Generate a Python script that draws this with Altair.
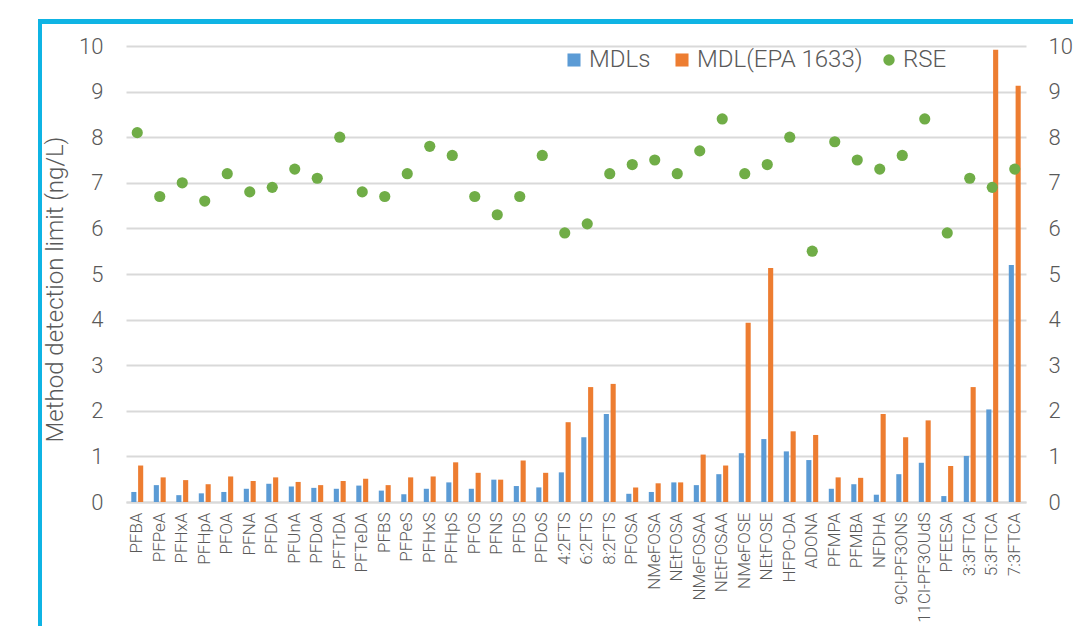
import altair as alt
import pandas as pd

categories = ["PFBA", "PFPeA", "PFHxA", "PFHpA", "PFOA", "PFNA", "PFDA", "PFUnA", "PFDoA", "PFTrDA",
              "PFTeDA", "PFBS", "PFPeS", "PFHxS", "PFHpS", "PFOS", "PFNS", "PFDS", "PFDoS", "4:2FTS",
              "6:2FTS", "8:2FTS", "PFOSA", "NMeFOSA", "NEtFOSA", "NMeFOSAA", "NEtFOSAA", "NMeFOSE", "NEtFOSE", "HFPO-DA",
              "ADONA", "PFMPA", "PFMBA", "NFDHA", "9Cl-PF3ONS", "11Cl-PF3OUdS", "PFEESA", "3:3FTCA", "5:3FTCA", "7:3FTCA"]
mdls = [0.22, 0.37, 0.15, 0.19, 0.22, 0.29, 0.40, 0.34, 0.31, 0.29,
        0.36, 0.25, 0.17, 0.29, 0.43, 0.29, 0.49, 0.35, 0.32, 0.65,
        1.42, 1.93, 0.18, 0.22, 0.43, 0.37, 0.61, 1.07, 1.38, 1.11,
        0.92, 0.29, 0.39, 0.16, 0.61, 0.86, 0.13, 1.01, 2.03, 5.20]
mdl_epa = [0.80, 0.54, 0.48, 0.39, 0.56, 0.46, 0.54, 0.44, 0.37, 0.46,
           0.51, 0.37, 0.54, 0.56, 0.87, 0.64, 0.49, 0.91, 0.64, 1.75,
           2.52, 2.59, 0.32, 0.41, 0.43, 1.04, 0.80, 3.93, 5.13, 1.55,
           1.47, 0.54, 0.53, 1.93, 1.42, 1.79, 0.79, 2.52, 9.92, 9.13]
rse = [8.1, 6.7, 7.0, 6.6, 7.2, 6.8, 6.9, 7.3, 7.1, 8.0,
       6.8, 6.7, 7.2, 7.8, 7.6, 6.7, 6.3, 6.7, 7.6, 5.9,
       6.1, 7.2, 7.4, 7.5, 7.2, 7.7, 8.4, 7.2, 7.4, 8.0,
       5.5, 7.9, 7.5, 7.3, 7.6, 8.4, 5.9, 7.1, 6.9, 7.3]
series_names = ["MDLs", "MDL(EPA 1633)"]
series_colors = ["#5B9BD5", "#ED7D31"]
rse_name = "RSE"
rse_color = "#70AD47"
y_ticks = [0, 1, 2, 3, 4, 5, 6, 7, 8, 9, 10]

bars_df = pd.DataFrame(
    [{"compound": c, "series": series_names[0], "value": v} for c, v in zip(categories, mdls)]
    + [{"compound": c, "series": series_names[1], "value": v} for c, v in zip(categories, mdl_epa)]
)
rse_df = pd.DataFrame({"compound": categories, "rse": rse, "series": rse_name})

FONT = "Roboto"
TXT = "#595959"
GRID = "#D9D9D9"

x_enc = alt.X(
    "compound:N", sort=categories,
    scale=alt.Scale(paddingInner=0.47, paddingOuter=0.235),
    axis=alt.Axis(title=None, labelAngle=-90, labelAlign="right", labelBaseline="middle",
                  labelFontSize=17, labelFont=FONT, labelFontWeight=300, labelColor=TXT,
                  labelPadding=10, ticks=False, domainColor=GRID, domainWidth=2,
                  labelOverlap=False, labelLimit=300),
)

bars = alt.Chart(bars_df).mark_bar().encode(
    x=x_enc,
    xOffset=alt.XOffset("series:N", sort=series_names,
                        scale=alt.Scale(paddingInner=0.25, paddingOuter=0)),
    y=alt.Y("value:Q", scale=alt.Scale(domain=[0, 10], nice=False),
            axis=alt.Axis(title="Method detection limit (ng/L)", values=y_ticks,
                          grid=True, gridColor=GRID, gridWidth=2, domain=False, ticks=False,
                          labelFontSize=22, labelFont=FONT, labelFontWeight=300, labelColor=TXT,
                          labelPadding=23, titleFontSize=24, titleFont=FONT, titleFontWeight=300,
                          titleColor=TXT, titleAngle=-90, titleAlign="center",
                          titleBaseline="alphabetic", titleX=-64, titleY=243)),
    color=alt.Color("series:N", sort=series_names,
                    scale=alt.Scale(domain=series_names, range=series_colors),
                    legend=alt.Legend(title=None, orient="none", legendX=436, legendY=2,
                                      direction="horizontal", symbolType="square",
                                      symbolSize=170, symbolStrokeWidth=0,
                                      labelFontSize=24, labelFont=FONT, labelFontWeight=300,
                                      labelColor=TXT, labelOffset=3, columnPadding=19,
                                      labelLimit=400)),
)

points = alt.Chart(rse_df).mark_circle(size=125, opacity=1).encode(
    x=alt.X("compound:N", sort=categories),
    y=alt.Y("rse:Q", scale=alt.Scale(domain=[0, 10], nice=False),
            axis=alt.Axis(orient="right", title=None, values=y_ticks, grid=False,
                          domain=False, ticks=False, labelFontSize=22, labelFont=FONT,
                          labelFontWeight=300, labelColor=TXT, labelPadding=22)),
    fill=alt.Fill("series:N", scale=alt.Scale(domain=[rse_name], range=[rse_color]),
                  legend=alt.Legend(title=None, orient="none", legendX=751, legendY=2,
                                    symbolType="circle", symbolSize=130,
                                    labelFontSize=24, labelFont=FONT, labelFontWeight=300,
                                    labelColor=TXT, labelOffset=2, labelLimit=200)),
)

frame_color = "#0FB4E4"
frame_left = alt.Chart(rse_df).mark_rule(color=frame_color, strokeWidth=4).encode(
    x=alt.value(-86), y=alt.value(-26.5), y2=alt.value(620)
)
frame_top = alt.Chart(rse_df).mark_rule(color=frame_color, strokeWidth=4).encode(
    x=alt.value(-88), x2=alt.value(1000), y=alt.value(-24.5)
)

chart = alt.layer(bars, points, frame_left, frame_top).resolve_scale(
    y="independent"
).properties(
    width=900, height=456,
    autosize=alt.AutoSizeParams(type="none"),
    padding={"left": 118, "top": 38, "right": 47, "bottom": 124},
    background="white",
).configure_view(strokeWidth=0)

chart.save("out.html", embed_options={"renderer": "svg", "actions": False})
